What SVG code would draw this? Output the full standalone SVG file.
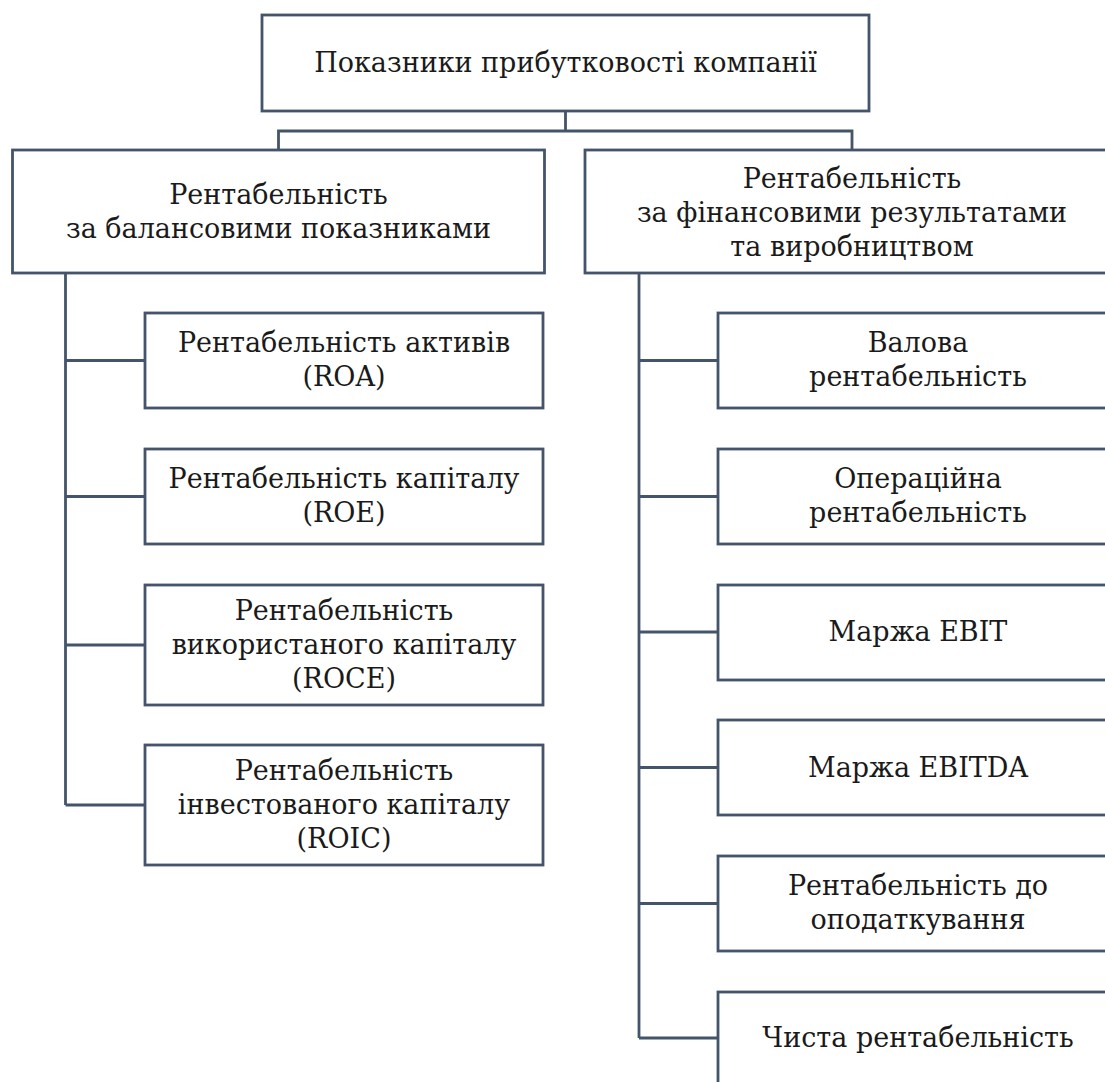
<svg xmlns="http://www.w3.org/2000/svg" width="1105" height="1082" viewBox="0 0 1105 1082">
<style>
.box{fill:#ffffff;stroke:#44546a;stroke-width:2.8}
.ln{fill:none;stroke:#44546a;stroke-width:2.8}
text{font-family:"DejaVu Serif","Liberation Serif",serif;font-size:27px;fill:#1a1a1a;text-anchor:middle}
</style>
<rect x="0" y="0" width="1105" height="1082" fill="#ffffff"/>
<g id="connectors">
<path class="ln" d="M565.5,111 V131 M278.5,150 V131 H852 V150"/>
<path class="ln" d="M65.5,273 V805 M65.5,360.5 H145 M65.5,496.5 H145 M65.5,645 H145 M65.5,805 H145"/>
<path class="ln" d="M639,273 V1038 M639,360.5 H718 M639,496.5 H718 M639,632 H718 M639,767.5 H718 M639,903.5 H718 M639,1038 H718"/>
</g>
<g id="root"><rect class="box" x="262" y="15" width="607" height="96"/><text x="565.5" y="72">Показники прибутковості компанії</text></g>
<g id="balance"><rect class="box" x="12.5" y="150" width="532" height="123"/><text x="278.5" y="203.5">Рентабельність</text><text x="278.5" y="237.5">за балансовими показниками</text></g>
<g id="financial"><rect class="box" x="585" y="150" width="535" height="123"/><text x="852" y="188">Рентабельність</text><text x="852" y="222">за фінансовими результатами</text><text x="852" y="256">та виробництвом</text></g>
<g id="roa"><rect class="box" x="145" y="313" width="398" height="95"/><text x="344" y="352">Рентабельність активів</text><text x="344" y="386">(ROA)</text></g>
<g id="roe"><rect class="box" x="145" y="449" width="398" height="95"/><text x="344" y="488">Рентабельність капіталу</text><text x="344" y="522">(ROE)</text></g>
<g id="roce"><rect class="box" x="145" y="585" width="398" height="120"/><text x="344" y="620">Рентабельність</text><text x="344" y="654">використаного капіталу</text><text x="344" y="688">(ROCE)</text></g>
<g id="roic"><rect class="box" x="145" y="745" width="398" height="120"/><text x="344" y="780">Рентабельність</text><text x="344" y="814">інвестованого капіталу</text><text x="344" y="848">(ROIC)</text></g>
<g id="gross"><rect class="box" x="718" y="313" width="400" height="95"/><text x="918" y="352">Валова</text><text x="918" y="386">рентабельність</text></g>
<g id="operating"><rect class="box" x="718" y="449" width="400" height="95"/><text x="918" y="488">Операційна</text><text x="918" y="522">рентабельність</text></g>
<g id="ebit"><rect class="box" x="718" y="585" width="400" height="95"/><text x="918" y="641">Маржа EBIT</text></g>
<g id="ebitda"><rect class="box" x="718" y="720" width="400" height="95"/><text x="918" y="776.5">Маржа EBITDA</text></g>
<g id="pretax"><rect class="box" x="718" y="856" width="400" height="95"/><text x="918" y="895">Рентабельність до</text><text x="918" y="929">оподаткування</text></g>
<g id="net"><rect class="box" x="718" y="992" width="400" height="95"/><text x="918" y="1047">Чиста рентабельність</text></g>
</svg>
